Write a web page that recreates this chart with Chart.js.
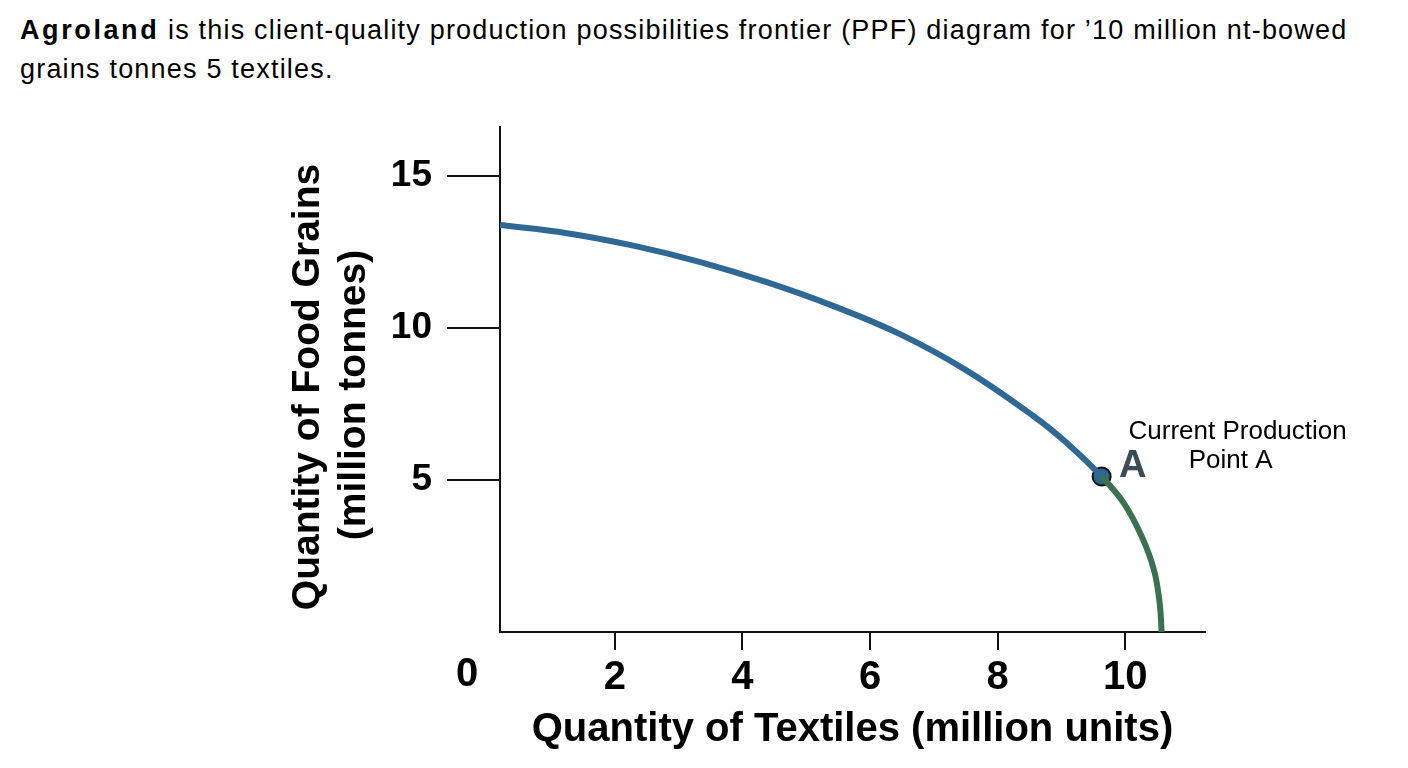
<!DOCTYPE html>
<html>
<head>
<meta charset="utf-8">
<script src="https://cdn.jsdelivr.net/npm/chart.js@4.4.1/dist/chart.umd.min.js"></script>
<style>
  html, body { margin: 0; padding: 0; background: #fff; }
  #wrap { position: relative; width: 1408px; height: 768px; }
  #title {
    position: absolute; left: 20px; top: 11px;
    font-family: "Liberation Sans", Arial, sans-serif;
    font-size: 27px; line-height: 39px; letter-spacing: 1.2px; color: #000;
    white-space: nowrap;
  }
  #title b { letter-spacing: 2.6px; }
  canvas { position: absolute; left: 0; top: 0; }
</style>
</head>
<body>
<div id="wrap">
  <div id="title"><b>Agroland</b> is this client-quality production possibilities frontier (PPF) diagram for ’10 million nt-bowed<br>grains tonnes 5 textiles.</div>
  <canvas id="ppf" width="1408" height="768"></canvas>
</div>
<script>
// frontier: textiles (x) vs food grains (y)
// upper part (blue) runs down to point A, lower part (green) from A to the axis
const upperX = [0.2, 1.25, 2.29, 3.34, 4.38, 5.42, 6.47, 7.51, 8.56, 9.08, 9.63];
const upperY = [13.38, 13.11, 12.7, 12.16, 11.5, 10.72, 9.79, 8.6, 7.1, 6.22, 5.11];
const lowerX = [9.63, 9.98, 10.26, 10.45, 10.54, 10.57];
const lowerY = [5.11, 4.23, 3.13, 2.04, 0.94, 0];

const pointA = { x: 9.63, y: 5.11 };
const pointLabel = 'A';
const noteLines = ['Current Production', 'Point A'];

const xTicks = [2, 4, 6, 8, 10];
const yTicks = [5, 10, 15];
const xOriginLabel = '0';
const xTitle = 'Quantity of Textiles (million units)';
const yTitle = ['Quantity of Food Grains', '(million tonnes)'];

const BLUE = '#2e6894';
const GREEN = '#3a7250';

const toPts = (xs, ys) => xs.map((x, i) => ({ x: x, y: ys[i] }));
// one continuous curve, A is shared by both parts
const frontier = toPts(upperX, upperY).concat(toPts(lowerX, lowerY).slice(1));
const splitAt = upperX.length - 1;

const NARROW = '"Liberation Sans Narrow", "Liberation Sans", Arial, sans-serif';
const SANS = '"Liberation Sans", Arial, sans-serif';

// axis titles, origin label and the point A notes
const extras = {
  id: 'extras',
  afterDraw(chart) {
    const { ctx, chartArea: a, scales } = chart;
    ctx.save();
    ctx.fillStyle = '#000';
    ctx.textAlign = 'center';
    ctx.textBaseline = 'middle';

    ctx.font = 'bold 40px ' + NARROW;
    ctx.fillText(xOriginLabel, a.left - 33, a.bottom + 43);
    ctx.fillText(xTitle, (a.left + a.right) / 2, a.bottom + 98);

    ctx.font = 'bold 39px ' + SANS;
    yTitle.forEach((line, i) => {
      ctx.save();
      ctx.translate(a.left - 192 + i * 46, 387 + i * 8);
      ctx.rotate(-Math.PI / 2);
      ctx.fillText(line, 0, 0);
      ctx.restore();
    });

    const px = scales.x.getPixelForValue(pointA.x);
    const py = scales.y.getPixelForValue(pointA.y);
    ctx.fillStyle = '#3a4b5a';
    ctx.font = 'bold 38px ' + SANS;
    ctx.fillText(pointLabel, px + 31, py - 10);

    ctx.fillStyle = '#000';
    ctx.font = '26px ' + SANS;
    ctx.fillText(noteLines[0], px + 136, py - 45);
    ctx.fillText(noteLines[1], px + 129, py - 16);
    ctx.restore();
  }
};

new Chart(document.getElementById('ppf'), {
  type: 'scatter',
  data: {
    datasets: [
      {
        data: frontier,
        showLine: true,
        borderColor: BLUE,
        borderWidth: 6,
        tension: 0.4,
        pointRadius: 0,
        segment: {
          borderColor: c => (c.p0DataIndex >= splitAt ? GREEN : BLUE)
        }
      },
      {
        data: [pointA],
        pointRadius: 9,
        pointBackgroundColor: '#2d6690',
        pointBorderColor: '#111',
        pointBorderWidth: 2
      }
    ]
  },
  options: {
    responsive: false,
    animation: false,
    layout: { padding: { top: 127, right: 203, bottom: 0, left: 0 } },
    plugins: { legend: { display: false }, tooltip: { enabled: false } },
    scales: {
      x: {
        type: 'linear',
        min: 0.2,
        max: 11.25,
        afterFit: s => { s.height = 136; },
        afterBuildTicks: s => { s.ticks = xTicks.map(v => ({ value: v })); },
        border: { display: true, color: '#111', width: 2 },
        grid: { drawOnChartArea: false, color: '#111', lineWidth: 2, tickLength: 18 },
        ticks: {
          color: '#000',
          padding: 4,
          font: { family: NARROW, size: 40, weight: 'bold' }
        }
      },
      y: {
        type: 'linear',
        min: 0,
        max: 16.6,
        afterFit: s => { s.width = 500; },
        afterBuildTicks: s => { s.ticks = yTicks.map(v => ({ value: v })); },
        border: { display: true, color: '#111', width: 2 },
        grid: { drawOnChartArea: false, color: '#111', lineWidth: 2, tickLength: 53 },
        ticks: {
          color: '#000',
          padding: 15,
          font: { family: SANS, size: 37, weight: 'bold' }
        }
      }
    }
  },
  plugins: [extras]
});
</script>
</body>
</html>
